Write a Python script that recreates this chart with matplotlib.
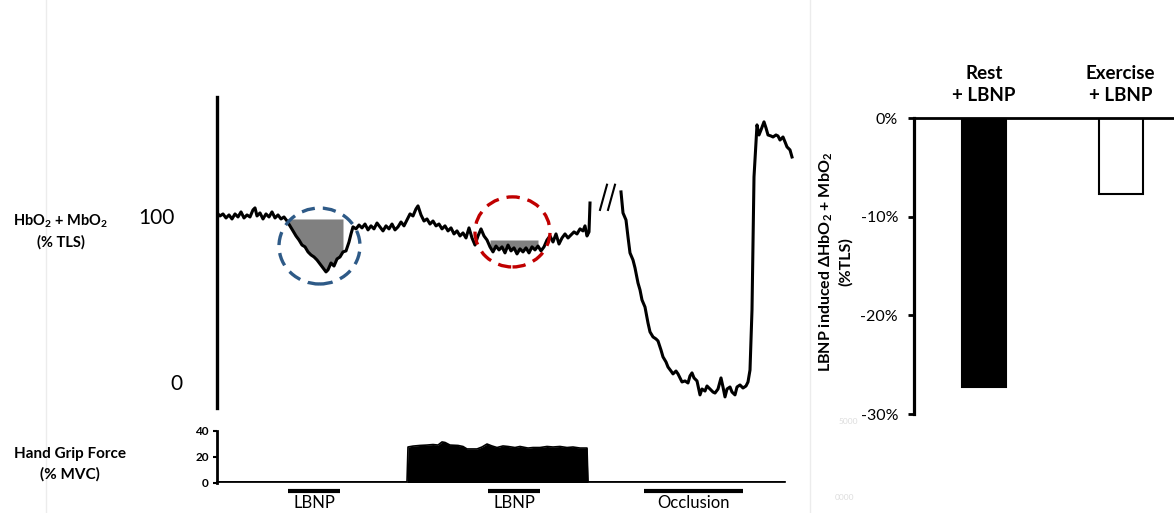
"""Forearm oxygenation during LBNP at rest and during hand grip exercise.

Left: raw HbO2 + MbO2 trace (% TLS) with the hand grip force record below.
Right: LBNP induced change in HbO2 + MbO2 for rest and exercise.
"""

import matplotlib
matplotlib.use("Agg")
import matplotlib.pyplot as plt
import numpy as np
from matplotlib.lines import Line2D
from matplotlib.patches import Ellipse
from matplotlib.ticker import FuncFormatter

plt.rcParams["font.family"] = ["Lato", "DejaVu Sans"]
plt.rcParams["mathtext.fontset"] = "custom"
plt.rcParams["mathtext.rm"] = "Lato"
plt.rcParams["mathtext.bf"] = "Lato:bold"
plt.rcParams["mathtext.it"] = "Lato:italic"
plt.rcParams["axes.unicode_minus"] = False

# ---- HbO2 + MbO2 trace (% TLS), time in s ------------------------------
# rest LBNP, then hand grip with LBNP
T_PRE = [0, 3, 6, 9, 12, 15, 18, 21, 24, 27,
         30, 33, 36, 38, 40, 43, 46, 49, 52, 55,
         58, 61, 64, 67, 70, 73, 76, 79, 82, 85,
         88, 91, 94, 97, 100, 103, 106, 109, 111, 114,
         117, 120, 123, 126, 129, 132, 134, 136, 139, 142,
         145, 148, 151, 154, 157, 160, 163, 166, 169, 172,
         175, 178, 181, 184, 187, 190, 193, 196, 199, 201,
         204, 207, 210, 213, 216, 219, 222, 225, 228, 231,
         234, 237, 240, 243, 246, 249, 252, 255, 258, 261,
         264, 267, 270, 273, 276, 279, 282, 285, 288, 291,
         294, 297, 300, 303, 306, 309, 312, 315, 318, 321,
         324, 327, 330, 333, 336, 339, 342, 345, 348, 351,
         354, 357, 360, 363, 366, 368, 370, 372, 373]
HB_PRE = [101.2, 99.4, 100.6, 98.2, 100.0, 97.6, 100.6, 98.8, 101.8, 98.2,
          100.0, 98.8, 103.0, 104.2, 99.4, 101.2, 97.6, 100.6, 98.8, 101.8,
          98.2, 100.0, 97.6, 98.8, 96.4, 93.5, 90.5, 87.5, 85.1, 82.1,
          81.0, 78.0, 76.2, 75.0, 73.2, 70.8, 68.5, 66.1, 67.3, 71.4,
          69.6, 73.8, 75.0, 78.0, 78.6, 83.9, 88.7, 92.9, 91.7, 94.0,
          92.3, 94.6, 91.1, 93.5, 91.7, 95.2, 92.9, 90.5, 93.5, 91.7,
          94.6, 91.1, 92.9, 95.8, 93.5, 97.0, 100.6, 99.4, 103.6, 105.4,
          100.0, 96.4, 97.6, 94.6, 96.4, 93.5, 94.6, 91.7, 93.5, 90.5,
          92.3, 88.7, 90.5, 87.5, 89.3, 86.3, 92.3, 86.3, 82.1, 87.5,
          91.7, 87.5, 85.1, 81.0, 78.0, 81.5, 79.2, 81.0, 77.4, 82.1,
          78.6, 80.4, 76.8, 79.8, 78.0, 80.4, 77.4, 81.0, 79.2, 81.5,
          78.6, 81.0, 85.1, 87.5, 83.9, 88.7, 82.7, 86.3, 88.7, 86.3,
          88.1, 89.9, 88.7, 91.7, 90.5, 93.5, 87.5, 89.9, 107.1]

# after the break: cuff occlusion and reactive hyperaemia
T_OCC = [404, 406, 409, 411, 413, 416, 418, 421, 423, 425,
         428, 431, 433, 436, 439, 441, 444, 446, 449, 451,
         454, 456, 459, 461, 463, 465, 468, 471, 473, 475,
         477, 480, 483, 485, 488, 490, 493, 496, 498, 501,
         504, 506, 508, 510, 513, 515, 518, 520, 523, 526,
         529, 531, 533, 535, 537, 540, 542, 544, 547, 549,
         551, 554, 556, 559, 561, 563, 566, 568, 570, 573, 575]
HB_OCC = [113.7, 101.2, 97.0, 86.9, 77.4, 73.2, 68.5, 59.5, 55.4, 49.4,
          45.2, 35.7, 30.4, 27.4, 26.2, 25.0, 19.6, 15.5, 12.5, 9.5,
          7.1, 5.4, 7.1, 5.4, 3.0, 0.6, 1.2, 0.0, 4.2, 6.0,
          3.0, 1.2, -7.1, -3.6, -4.8, -1.8, -3.6, -5.4, -6.0, -3.6,
          3.0, -2.4, -8.3, -3.6, -2.4, -5.4, -7.1, -2.4, -1.2, -3.0,
          -1.8, 0.6, 7.7, 43.5, 122.6, 153.6, 147.6, 150.6, 155.4, 151.8,
          147.6, 147.0, 146.4, 147.6, 147.0, 144.6, 146.4, 143.5, 140.5, 138.7, 134.5]

# LBNP induced drop, shaded and circled
DROP_START = [70, 273]
DROP_END = [126, 323]
DROP_LEVEL = [97.6, 85.1]
CIRCLE_T = [102.5, 295.5]
CIRCLE_HB = [81.5, 89.9]
CIRCLE_W = [81, 75]
CIRCLE_H = [45.2, 41.7]
CIRCLE_COLORS = ["#2E5A87", "#C00000"]

# ---- hand grip force (% MVC) -------------------------------------------
T_GRIP = [0, 190, 191, 196, 203, 210, 216, 221, 225, 228,
          233, 241, 246, 250, 260, 265, 270, 275, 280, 286,
          291, 298, 303, 311, 316, 323, 330, 336, 343, 350,
          356, 363, 370, 371, 568]
GRIP = [0.5, 0.5, 27.3, 28.0, 28.5, 28.8, 29.2, 28.8, 31.2, 30.8,
        28.8, 28.5, 27.7, 25.8, 25.8, 27.3, 29.6, 28.1, 26.9, 28.1,
        27.7, 26.9, 27.7, 26.5, 26.9, 26.9, 27.7, 27.3, 27.7, 26.9,
        27.3, 26.5, 26.5, 0.5, 0.5]

EVENTS = ["LBNP", "LBNP", "Occlusion"]
EVENT_START = [71, 271, 427]
EVENT_END = [123, 323, 526]

# ---- summary bars --------------------------------------------------------
CONDITIONS = ["Rest\n+ LBNP", "Exercise\n+ LBNP"]
DELTA_HB = [-27.3, -7.7]
BAR_COLORS = ["black", "white"]

W, H = 1174, 513


def fx(px):
    return px / W


def fy(py):
    return 1 - py / H


def draw_trace(ax):
    t = np.array(T_PRE)
    hb = np.array(HB_PRE)
    for a, b, lev in zip(DROP_START, DROP_END, DROP_LEVEL):
        m = (t >= a) & (t <= b)
        ax.fill_between(t[m], hb[m], lev, where=hb[m] <= lev, interpolate=True,
                        color="#808080", lw=0, zorder=1)
    ax.plot(T_PRE, HB_PRE, color="black", lw=2.2, zorder=3)
    ax.plot(T_OCC, HB_OCC, color="black", lw=2.2, zorder=3)

    for cx, cy, w, h, c in zip(CIRCLE_T, CIRCLE_HB, CIRCLE_W, CIRCLE_H, CIRCLE_COLORS):
        ax.add_patch(Ellipse((cx, cy), w, h, fill=False, ec=c, lw=2.4,
                             ls=(0, (4.0, 2.4)), zorder=4))

    # axis break between the two records
    for t0 in (383, 391):
        ax.plot([t0, t0 + 7], [103, 118], color="black", lw=1.5)

    ax.set_xlim(0, 585)
    ax.set_ylim(-14.9, 170.2)
    for s in ("top", "right", "bottom"):
        ax.spines[s].set_visible(False)
    ax.spines["left"].set_linewidth(2.4)
    ax.set_xticks([])
    ax.set_yticks([])
    yt = ax.get_yaxis_transform()
    ax.text(-0.104, 98, "100", transform=yt, ha="center", va="center", fontsize=15)
    ax.text(-0.070, -0.5, "0", transform=yt, ha="center", va="center", fontsize=15)


def draw_grip(ax):
    ax.fill_between(T_GRIP, 0, GRIP, color="black", lw=0, clip_on=False)
    ax.plot(T_GRIP, GRIP, color="black", lw=1.2, clip_on=False)
    ax.set_xlim(0, 585)
    ax.set_ylim(0, 40)
    for s in ("top", "right", "bottom"):
        ax.spines[s].set_visible(False)
    ax.spines["left"].set_linewidth(2.0)
    ax.set_xticks([])
    ax.set_yticks([0, 20, 40])
    ax.tick_params(axis="y", length=3, width=1.5, pad=3, labelsize=8.5)
    for lab in ax.get_yticklabels():
        lab.set_fontweight("bold")

    xt = ax.get_xaxis_transform()
    for name, a, b in zip(EVENTS, EVENT_START, EVENT_END):
        ax.plot([a, b], [-0.155, -0.155], transform=xt, color="black", lw=3,
                solid_capstyle="butt", clip_on=False)
        ax.text((a + b) / 2, -0.39, name, transform=xt, ha="center", va="center",
                fontsize=12)


def draw_bars(ax):
    x = np.arange(len(CONDITIONS))
    ax.bar(x, DELTA_HB, width=0.32, color=BAR_COLORS, edgecolor="black",
           linewidth=1.5, zorder=2)
    ax.set_xlim(-0.51, 1.39)
    ax.set_ylim(-30, 0)
    ax.spines["right"].set_visible(False)
    ax.spines["bottom"].set_visible(False)
    ax.spines["left"].set_linewidth(2.3)
    ax.spines["top"].set_linewidth(2.0)
    ax.set_xticks([])
    ax.set_yticks([0, -10, -20, -30])
    ax.yaxis.set_major_formatter(FuncFormatter(lambda v, _: f"{v:.0f}%"))
    ax.tick_params(axis="y", length=4, width=2, pad=7.5, labelsize=11.5)
    xt = ax.get_xaxis_transform()
    for xi, lab in zip(x, CONDITIONS):
        ax.text(xi, 1.113, lab, transform=xt, ha="center", va="center",
                fontsize=13.5, fontweight="bold", linespacing=1.35)


def main():
    fig = plt.figure(figsize=(W / 100, H / 100), dpi=100)

    # faint panel separators
    for px in (46, 810):
        fig.add_artist(Line2D([fx(px), fx(px)], [0, 1], color="#ececec", lw=1))

    ax_tr = fig.add_axes([fx(217), fy(408), fx(585), (408 - 97) / H])
    ax_gr = fig.add_axes([fx(217), fy(482.5), fx(585), 52 / H])
    ax_br = fig.add_axes([fx(914), fy(414), 1 - fx(914), 296 / H])

    draw_trace(ax_tr)
    draw_grip(ax_gr)
    draw_bars(ax_br)

    fig.text(fx(61), fy(231), "HbO$_\\mathbf{2}$ + MbO$_\\mathbf{2}$\n(% TLS)",
             ha="center", va="center", fontsize=10.5, fontweight="bold",
             linespacing=1.5)
    fig.text(fx(70), fy(464), "Hand Grip Force\n(% MVC)", ha="center", va="center",
             fontsize=11, fontweight="bold", linespacing=1.5)
    fig.text(fx(835), fy(262),
             "LBNP induced \u0394HbO$_\\mathbf{2}$ + MbO$_\\mathbf{2}$\n(%TLS)",
             rotation=90, ha="center", va="center", fontsize=11.5, fontweight="bold",
             linespacing=1.3)

    # ghost labels left over in the source image
    fig.text(fx(848), fy(422), "5000", ha="center", va="center", fontsize=6,
             color="#dddddd")
    fig.text(fx(845), fy(498), "0000", ha="center", va="center", fontsize=6,
             color="#dddddd")

    fig.savefig("out.png", dpi=100)
    plt.close(fig)


if __name__ == "__main__":
    main()
